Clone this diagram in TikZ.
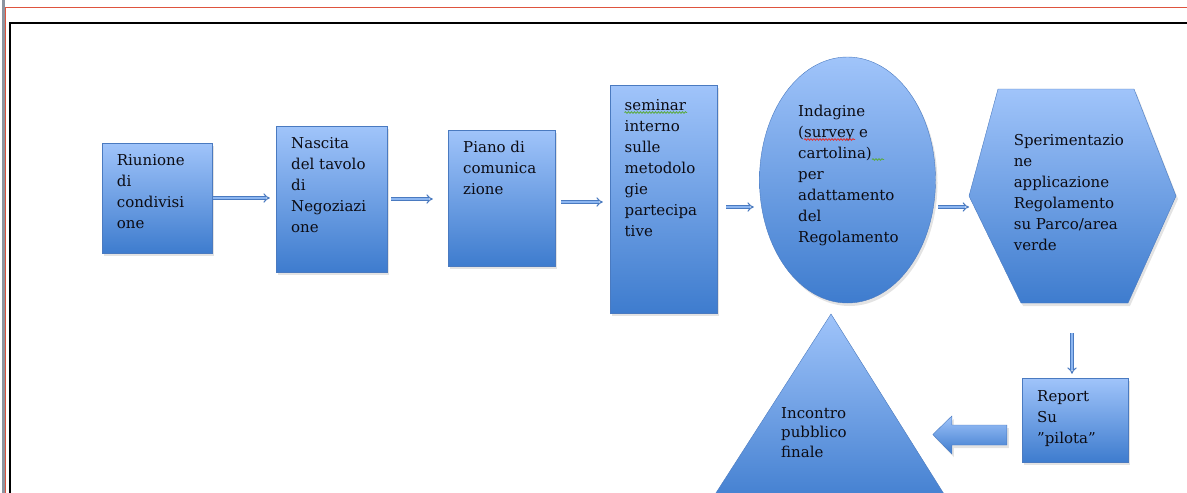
\documentclass[tikz,border=0pt]{standalone}
\usepackage{fontspec}
\setmainfont{DejaVu Serif}[Ligatures=ResetAll]
\usetikzlibrary{arrows.meta,shapes.geometric,shadows,decorations.pathmorphing}
\definecolor{topc}{RGB}{160,196,250}
\definecolor{botc}{RGB}{62,124,206}
\definecolor{edgec}{RGB}{74,122,192}
\definecolor{textc}{RGB}{12,12,20}
\definecolor{barc}{RGB}{140,148,160}
\definecolor{redc}{RGB}{222,84,62}
\definecolor{spellg}{RGB}{90,170,60}
\definecolor{spellr}{RGB}{225,50,50}
\tikzset{
  blob/.style={draw=edgec, thin, top color=topc, bottom color=botc,
    drop shadow={opacity=0.22, shadow xshift=2pt, shadow yshift=-3pt}},
  box/.style={blob, rectangle, inner sep=0},
  txt/.style={anchor=north west, align=left, inner sep=0, text=textc,
    font=\fontsize{15pt}{21pt}\selectfont},
  link/.style={draw=edgec, line width=1.1pt, double=topc!80!botc,
    double distance=2pt, -{Implies}},
  squig/.style={decorate, decoration={snake, amplitude=0.8pt, segment length=3pt},
    line width=0.8pt},
}
\begin{document}
\begin{tikzpicture}[x=1pt, y=-1pt]
  \useasboundingbox (0,0) rectangle (1187,493);
  \clip (0,0) rectangle (1187,493);
  % page edges
  \fill[barc] (2,0) rectangle (5,493);
  \draw[redc, line width=0.9pt] (5.5,493) -- (5.5,7) -- (1187,7);
  \draw[black, line width=2pt] (10,493) -- (10,22.5) -- (1187,22.5);
  % shapes
  \node[box, minimum width=110pt, minimum height=110pt] (riun) at (157,198) {};
  \node[box, minimum width=111pt, minimum height=146pt] (nasc) at (331.5,199) {};
  \node[box, minimum width=107pt, minimum height=136pt] (piano) at (501.5,198) {};
  \node[box, minimum width=107pt, minimum height=228pt] (semi) at (663.5,199) {};
  \node[blob, ellipse, inner sep=0, minimum width=176pt, minimum height=246pt] (inda) at (847.5,180) {};
  \coordinate (sper-w) at (969,196);
  \coordinate (sper-s) at (1072,303);
  \path[blob] (998,89) -- (1134,89) -- (1176,196) -- (1128,303) -- (1021,303) -- (sper-w) -- cycle;
  \node[box, minimum width=106pt, minimum height=84pt] (rep) at (1075,420) {};
  \coordinate (inco) at (831,314);
  \path[blob] (inco) -- (954,510) -- (705,510) -- cycle;
  % texts
  \node[txt] (riun-t) at (116.7,150.3) {\strut Riunione\\di\\condivisi\\one};
  \node[txt] (nasc-t) at (291,133.3) {\strut Nascita\\del tavolo\\di\\Negoziazi\\one};
  \node[txt] (piano-t) at (463,137.3) {\strut Piano di\\comunica\\zione};
  \node[txt] (semi-t) at (624.5,95.3) {\strut seminar\\interno\\sulle\\metodolo\\gie\\partecipa\\tive};
  \node[txt] (inda-t) at (798,101.3) {\strut Indagine\\(survey e\\cartolina)\\per\\adattamento\\del\\Regolamento};
  \node[txt] (sper-t) at (1013.6,130.3) {\strut Sperimentazio\\ne\\applicazione\\Regolamento\\su Parco/area\\verde};
  \node[txt] (rep-t) at (1037,386.3) {\strut Report\\Su\\"pilota"};
  \node[txt, font=\fontsize{15pt}{19.5pt}\selectfont] (inco-t) at (781,404.3) {\strut Incontro\\pubblico\\finale};
  % spelling marks
  \draw[squig, spellg] (624.5,112.5) -- (687,112.5);
  \draw[squig, spellr] (804,139.5) -- (855,139.5);
  \draw[squig, spellg] (872,159.5) -- (884,159.5);
  % connectors
  \draw[link, shorten <=1pt, shorten >=6pt] (riun.east) -- (riun.east -| nasc.west);
  \draw[link, shorten <=4pt, shorten >=15pt] (nasc.east) -- (nasc.east -| piano.west);
  \draw[link, shorten <=6pt, shorten >=7pt] ([yshift=-4pt]piano.east) -- ([yshift=-4pt]piano.east -| semi.west);
  \draw[link, shorten <=9pt, shorten >=5.5pt] ([yshift=-8pt]semi.east) -- ([yshift=-8pt]semi.east -| inda.west);
  \draw[link, shorten <=2.5pt] ([yshift=-27pt]inda.east) -- ([yshift=-27pt]inda.east -| sper-w);
  \draw[link, shorten <=30pt, shorten >=4pt] (sper-s) -- (sper-s |- rep.north);
  \path[blob] ([shift={(-15,5)}]rep.west) -- ++(-55,0) -- ++(0,-9) -- ++(-19,18.5)
    -- ++(19,19.5) -- ++(0,-9) -- ++(55,0) -- cycle;
\end{tikzpicture}
\end{document}
